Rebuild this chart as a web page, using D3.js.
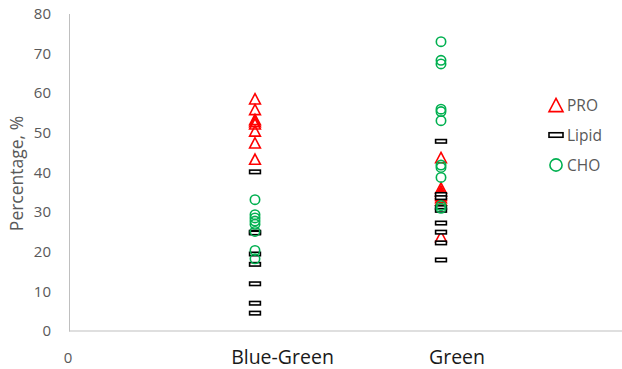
<!DOCTYPE html>
<html>
<head>
<meta charset="utf-8">
<script src="https://cdn.jsdelivr.net/npm/d3@7/dist/d3.min.js"></script>
<style>
  html, body { margin: 0; padding: 0; background: #fff; }
  svg { display: block; font-family: "Open Sans", sans-serif; }
</style>
</head>
<body>
<svg id="chart" width="622" height="369"></svg>
<script>
// Composition of algae groups: protein, lipid and carbohydrate shares (%)
const categories = ["Blue-Green", "Green"];
const categoryX = [1, 2];

const proBlueGreen   = [58.5, 55.8, 53.3, 52.8, 52.2, 50.4, 47.4, 43.3];
const lipidBlueGreen = [40.1, 24.9, 24.7, 19.4, 16.8, 11.9, 7.0, 4.5];
const choBlueGreen   = [33.1, 29.3, 28.5, 27.7, 26.9, 25.1, 20.3, 18.2];

const proGreen   = [43.7, 36.0, 35.3, 34.7, 34.2, 33.6, 33.0, 23.8];
const lipidGreen = [47.8, 34.4, 33.6, 31.1, 30.4, 27.2, 24.9, 22.2, 17.9];
const choGreen   = [72.9, 68.2, 67.3, 55.9, 55.3, 53.0, 41.8, 41.2, 38.7, 31.6, 30.9];

const yTicks = [0, 10, 20, 30, 40, 50, 60, 70, 80];
const seriesNames = ["PRO", "Lipid", "CHO"];

const series = [
  { name: "PRO",   shape: "triangle", color: "#ff0000", groups: [proBlueGreen, proGreen] },
  { name: "Lipid", shape: "rect",     color: "#000000", groups: [lipidBlueGreen, lipidGreen] },
  { name: "CHO",   shape: "circle",   color: "#00b050", groups: [choBlueGreen, choGreen] }
];

const svg = d3.select("#chart");
const x = d3.scaleLinear().domain([0, 3]).range([69, 627]);
const y = d3.scaleLinear().domain([0, 80]).range([331, 13.5]);

// axes
const axisColor = "#bfbfbf";
const yAxis = d3.axisLeft(y).tickValues(yTicks).tickSize(0).tickPadding(18);
const gy = svg.append("g").attr("transform", `translate(${x(0)},0)`).call(yAxis);
gy.select(".domain").attr("stroke", axisColor).attr("stroke-width", 1);
gy.selectAll("text").attr("fill", "#595959").style("font-size", "15px")
  .style("font-family", "'Open Sans', sans-serif");

svg.append("line")
  .attr("x1", x(0)).attr("x2", 622)
  .attr("y1", y(0)).attr("y2", y(0))
  .attr("stroke", axisColor).attr("stroke-width", 1);

svg.append("text")
  .attr("x", x(0) - 1).attr("y", 363)
  .attr("text-anchor", "middle")
  .attr("fill", "#595959").style("font-size", "15px")
  .text("0");

// category labels under the axis
const labelX = [282.5, 457];
svg.selectAll(".cat").data(categories).join("text")
  .attr("class", "cat")
  .attr("x", (d, i) => labelX[i]).attr("y", 364)
  .attr("text-anchor", "middle")
  .attr("fill", "#1a1a1a").style("font-size", "19.5px")
  .text(d => d);

// y axis title
svg.append("text")
  .attr("transform", `translate(23,173.5) rotate(-90)`)
  .attr("text-anchor", "middle")
  .attr("fill", "#595959").style("font-size", "17.5px")
  .text("Percentage, %");

// marker drawing
function drawMarker(g, shape, color, cx, cy, s) {
  if (shape === "triangle") {
    const h = s * 0.95;
    g.append("path")
      .attr("d", `M${cx},${cy - h / 2}L${cx + s / 2},${cy + h / 2}L${cx - s / 2},${cy + h / 2}Z`)
      .attr("fill", "none").attr("stroke", color).attr("stroke-width", 1.6);
  } else if (shape === "rect") {
    g.append("rect")
      .attr("x", cx - s / 2).attr("y", cy - s * 0.16)
      .attr("width", s).attr("height", s * 0.32)
      .attr("fill", "#fff").attr("stroke", color).attr("stroke-width", 1.6);
  } else {
    g.append("circle")
      .attr("cx", cx).attr("cy", cy).attr("r", s / 2.3)
      .attr("fill", "none").attr("stroke", color).attr("stroke-width", 1.6);
  }
}

const plot = svg.append("g");
series.forEach(s => {
  s.groups.forEach((vals, gi) => {
    vals.forEach(v => drawMarker(plot, s.shape, s.color, x(categoryX[gi]), y(v), 10.8));
  });
});

// legend
const legend = svg.append("g");
series.forEach((s, i) => {
  const cy = 105 + i * 30;
  drawMarker(legend, s.shape, s.color, 556, cy, 14);
  legend.append("text")
    .attr("x", 567).attr("y", cy + 5.5)
    .attr("fill", "#595959").style("font-size", "15.5px")
    .text(seriesNames[i]);
});
</script>
</body>
</html>
